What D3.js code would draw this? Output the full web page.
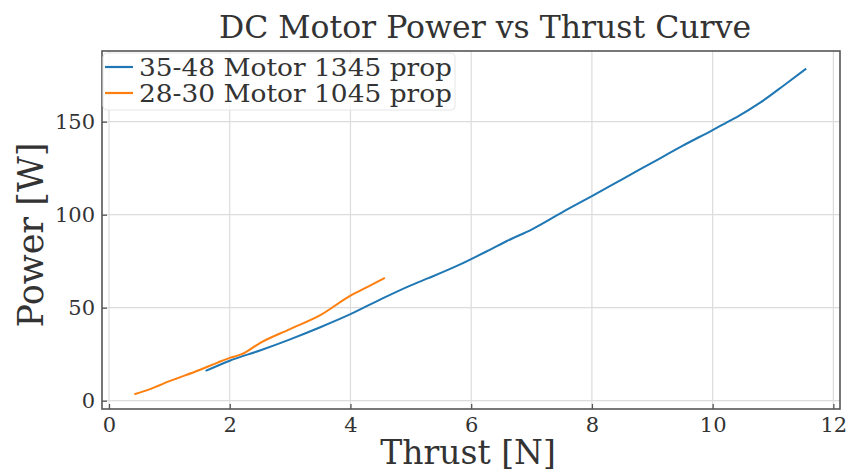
<!DOCTYPE html>
<html>
<head>
<meta charset="utf-8">
<script src="https://cdn.jsdelivr.net/npm/d3@7"></script>
<style>
  body { margin: 0; background: #fff; }
  text { font-family: "DejaVu Serif", serif; fill: #333; }
</style>
</head>
<body>
<div id="chart"></div>
<script>
// series: [thrust N, power W]
const bigMotor = [
  [1.6, 16], [2.0, 21.5], [2.5, 27], [3.0, 33], [3.5, 39.5], [4.0, 46.5],
  [4.5, 54.5], [5.0, 62], [5.3, 66], [5.8, 73], [6.3, 81], [6.6, 86],
  [7.0, 92], [7.6, 103], [8.0, 110], [8.5, 119], [9.0, 128], [9.5, 137],
  [10.0, 145.5], [10.2, 149], [10.4, 152.5], [10.8, 160.5], [11.2, 170], [11.55, 178.5]
];
const smallMotor = [
  [0.42, 3.5], [0.7, 6.5], [1.0, 10.5], [1.5, 16.5], [1.8, 20.5], [2.0, 23],
  [2.2, 25], [2.5, 31], [3.0, 38.5], [3.5, 46], [4.0, 56.5], [4.3, 61.5], [4.57, 66]
];
const seriesNames = ['35-48 Motor 1345 prop', '28-30 Motor 1045 prop'];
const seriesColours = ['#1f77b4', '#ff7f0e'];
const xTicks = [0, 2, 4, 6, 8, 10, 12];
const yTicks = [0, 50, 100, 150];

const w = 852;
const h = 472;
const margin = ({ top: 51, right: 12, bottom: 63, left: 102 });

const svg = d3.select('#chart')
  .append('svg')
  .attr('width', w)
  .attr('height', h);

const xScale = d3.scaleLinear()
  .domain([-0.116, 12.11])
  .range([margin.left, w - margin.right]);

const yScale = d3.scaleLinear()
  .domain([-4.46, 188])
  .range([h - margin.bottom, margin.top]);

// grid
svg.append('g')
  .selectAll('line')
  .data(xTicks)
  .enter()
  .append('line')
  .attr('x1', d => xScale(d)).attr('x2', d => xScale(d))
  .attr('y1', margin.top).attr('y2', h - margin.bottom)
  .attr('stroke', '#dcdcdc').attr('stroke-width', 1.2);

svg.append('g')
  .selectAll('line')
  .data(yTicks)
  .enter()
  .append('line')
  .attr('x1', margin.left).attr('x2', w - margin.right)
  .attr('y1', d => yScale(d)).attr('y2', d => yScale(d))
  .attr('stroke', '#dcdcdc').attr('stroke-width', 1.2);

// axes with inward ticks
const xAxis = d3.axisBottom(xScale).tickValues(xTicks).tickSize(-5).tickPadding(8);
const yAxis = d3.axisLeft(yScale).tickValues(yTicks).tickSize(-5).tickPadding(7);

const gx = svg.append('g')
  .attr('transform', `translate(0, ${h - margin.bottom})`)
  .call(xAxis);
const gy = svg.append('g')
  .attr('transform', `translate(${margin.left}, 0)`)
  .call(yAxis);

[gx, gy].forEach(g => {
  g.select('.domain').remove();
  g.selectAll('.tick line').attr('stroke', '#555').attr('stroke-width', 1.3);
  g.selectAll('.tick text')
    .attr('font-family', '"DejaVu Serif", serif')
    .attr('font-size', 21)
    .attr('fill', '#333');
});
gx.selectAll('.tick text').attr('dy', '0.72em');

// frame
svg.append('rect')
  .attr('x', margin.left)
  .attr('y', margin.top)
  .attr('width', w - margin.left - margin.right)
  .attr('height', h - margin.top - margin.bottom)
  .attr('fill', 'none')
  .attr('stroke', '#555')
  .attr('stroke-width', 1.6);

// lines
const line = d3.line()
  .curve(d3.curveMonotoneX)
  .x(d => xScale(d[0]))
  .y(d => yScale(d[1]));

[bigMotor, smallMotor].forEach((data, i) => {
  svg.append('path')
    .datum(data)
    .attr('d', line)
    .attr('fill', 'none')
    .attr('stroke', seriesColours[i])
    .attr('stroke-width', 2);
});

// legend
const legend = svg.append('g')
  .attr('transform', `translate(${margin.left + 1}, ${margin.top + 2})`);

legend.append('rect')
  .attr('width', 352)
  .attr('height', 57)
  .attr('rx', 4)
  .attr('fill', 'rgba(255,255,255,0.8)')
  .attr('stroke', '#e6e6e6');

seriesNames.forEach((name, i) => {
  const y = 14 + i * 26;
  legend.append('line')
    .attr('x1', 2).attr('x2', 30)
    .attr('y1', y).attr('y2', y)
    .attr('stroke', seriesColours[i])
    .attr('stroke-width', 2.2);
  legend.append('text')
    .attr('x', 36)
    .attr('y', y)
    .attr('dy', '0.36em')
    .attr('font-size', 24)
    .attr('textLength', 313)
    .attr('lengthAdjust', 'spacingAndGlyphs')
    .text(name);
});

// titles
svg.append('text')
  .attr('x', 485)
  .attr('y', 38)
  .attr('text-anchor', 'middle')
  .attr('font-size', 31.5)
  .text('DC Motor Power vs Thrust Curve');

svg.append('text')
  .attr('x', 468)
  .attr('y', 464)
  .attr('text-anchor', 'middle')
  .attr('font-size', 33)
  .text('Thrust [N]');

svg.append('text')
  .attr('transform', 'translate(43, 235) rotate(-90)')
  .attr('text-anchor', 'middle')
  .attr('font-size', 35)
  .text('Power [W]');
</script>
</body>
</html>
